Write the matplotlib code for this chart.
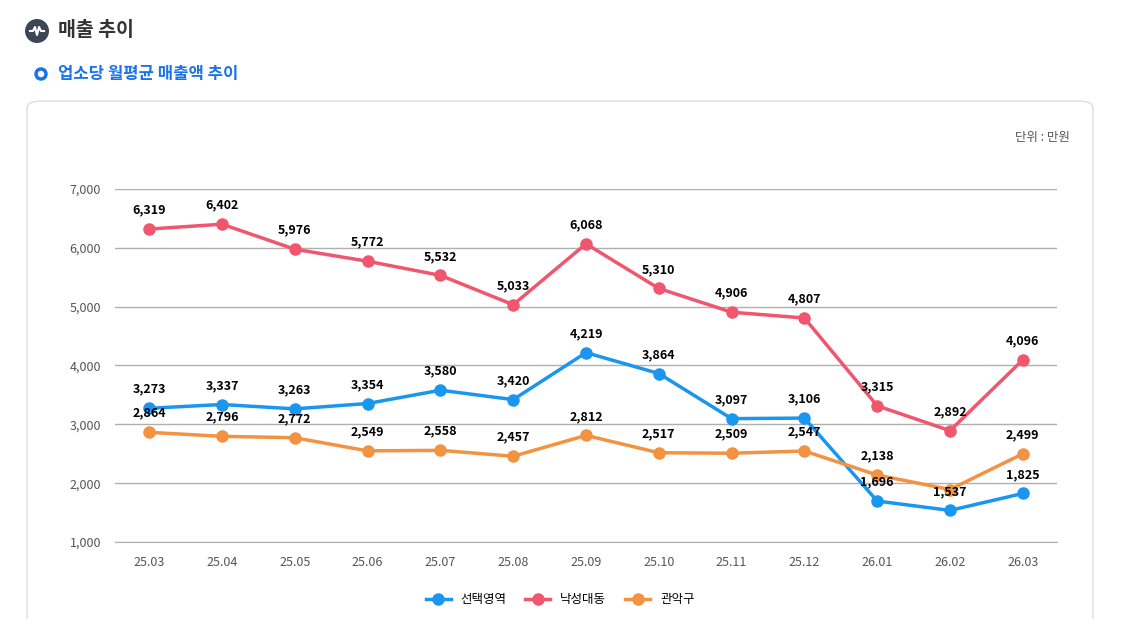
import matplotlib
matplotlib.use("Agg")
import matplotlib.pyplot as plt
from matplotlib.patches import FancyBboxPatch, Ellipse
from matplotlib.lines import Line2D

plt.rcParams['font.family'] = ['Noto Sans CJK KR', 'DejaVu Sans']

months = ["25.03","25.04","25.05","25.06","25.07","25.08","25.09","25.10","25.11","25.12","26.01","26.02","26.03"]
seontaek = [3273,3337,3263,3354,3580,3420,4219,3864,3097,3106,1696,1537,1825]
nakseong = [6319,6402,5976,5772,5532,5033,6068,5310,4906,4807,3315,2892,4096]
gwanak = [2864,2796,2772,2549,2558,2457,2812,2517,2509,2547,2138,1892,2499]
gwanak_labels = [2864,2796,2772,2549,2558,2457,2812,2517,2509,2547,2138,None,2499]
series = [("선택영역", seontaek, "#1a96f0"), ("낙성대동", nakseong, "#f0566e"), ("관악구", gwanak, "#f39240")]

W, H = 1135, 619
fig = plt.figure(figsize=(W/100, H/100), dpi=100)
fig.patch.set_facecolor("white")

def fx(px): return px / W
def fy(py): return 1 - py / H

card = FancyBboxPatch((fx(27), -0.05), fx(1093-27), (619-101)/H + 0.05,
                      boxstyle="round,pad=0,rounding_size=0.012", transform=fig.transFigure,
                      facecolor="white", edgecolor="#dddddd", linewidth=1, zorder=0)
fig.add_artist(card)
fig.add_artist(Ellipse((fx(37), fy(31)), 24/W, 24/H, transform=fig.transFigure, facecolor="#3c4656", edgecolor="none", zorder=1))
zx = [30, 33, 35, 37, 39, 41, 44]
zy = [31, 31, 27, 35, 27, 31, 31]
fig.add_artist(Line2D([fx(v) for v in zx], [fy(v) for v in zy], transform=fig.transFigure, color="white", linewidth=1.5, zorder=2))
fig.text(fx(58), fy(31), "매출 추이", fontsize=14, fontweight="bold", color="#333333", va="center")
fig.add_artist(Ellipse((fx(41), fy(74)), 10/W, 10/H, transform=fig.transFigure, facecolor="white", edgecolor="#1a73e8", linewidth=2.5, zorder=1))
fig.text(fx(58), fy(74), "업소당 월평균 매출액 추이", fontsize=12, fontweight="bold", color="#1a73e8", va="center")
fig.text(fx(1070), fy(138), "단위 : 만원", fontsize=9, color="#555555", ha="right", va="center")

ax = fig.add_axes([fx(115), fy(542), 942/W, (542-189)/H], zorder=3)
x = list(range(len(months)))
for name, vals, c in series:
    ax.plot(x, vals, color=c, linewidth=2.5, marker="o", markersize=8, zorder=3)
for name, vals, c in series:
    labs = gwanak_labels if name == "관악구" else vals
    for xi, v, l in zip(x, vals, labs):
        if l is None:
            continue
        ax.annotate(f"{l:,}", (xi, v), xytext=(0, 9), textcoords="offset points",
                    ha="center", va="bottom", fontsize=9, fontweight="bold", color="black", zorder=5)

ax.set_xlim(-0.47, 12.47)
ax.set_ylim(1000, 7000)
ax.set_yticks(range(1000, 7001, 1000))
ax.set_yticklabels([f"{v:,}" for v in range(1000, 7001, 1000)])
ax.set_xticks(x)
ax.set_xticklabels(months)
ax.grid(axis="y", color="#b0b0b0", linewidth=1)
ax.set_axisbelow(True)
for s in ["top", "right", "left"]:
    ax.spines[s].set_visible(False)
ax.spines["bottom"].set_color("#b0b0b0")
ax.tick_params(length=0, labelsize=9, colors="#555555", pad=10)
ax.set_facecolor("none")

handles = [Line2D([0], [0], color=c, linewidth=2.5, marker="o", markersize=8) for _, _, c in series]
fig.legend(handles, [s[0] for s in series], loc="center", bbox_to_anchor=(fx(560), fy(600)),
           ncol=3, frameon=False, fontsize=9, handlelength=2, columnspacing=1.5)

fig.savefig("out.png", dpi=100)
